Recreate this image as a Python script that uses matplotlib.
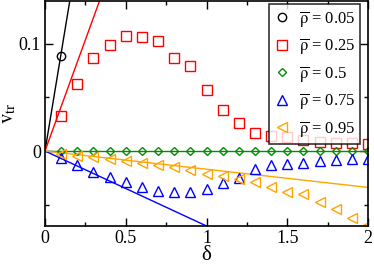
import matplotlib
matplotlib.use('Agg')
import matplotlib.pyplot as plt
from matplotlib.ticker import MultipleLocator

plt.rcParams['font.family'] = 'Liberation Serif'
plt.rcParams['mathtext.fontset'] = 'stix'

# delta values for the simulation points
delta = [0.1, 0.2, 0.3, 0.4, 0.5, 0.6, 0.7, 0.8, 0.9, 1.0,
         1.1, 1.2, 1.3, 1.4, 1.5, 1.6, 1.7, 1.8, 1.9, 2.0]

# rho = 0.05 (only one point)
delta_005 = [0.1]
v_005 = [0.0884]

v_025 = [0.0331, 0.0625, 0.0865, 0.099, 0.1078, 0.1062, 0.1028, 0.0865, 0.079, 0.0572,
         0.0387, 0.026, 0.0172, 0.0143, 0.0128, 0.010, 0.0084, 0.0078, 0.0072, 0.0063]
v_05 = [0.0] * 20
v_075 = [-0.0069, -0.0131, -0.0198, -0.024, -0.0287, -0.0334, -0.0372, -0.0387, -0.0387, -0.0353,
         -0.0297, -0.025, -0.0172, -0.0131, -0.0125, -0.011, -0.0094, -0.0084, -0.0078, -0.0075]
v_095 = [-0.0028, -0.0042, -0.006, -0.0078, -0.0095, -0.0112, -0.0128, -0.0152, -0.0178, -0.021,
         -0.0234, -0.0262, -0.0294, -0.0334, -0.0381, -0.0406, -0.048, -0.0544, -0.0622, -0.0694]

# slopes of the small-delta lines
rhos = ['0.05', '0.25', '0.5', '0.75', '0.95']
slopes = [0.913, 0.415, 0.0, -0.07, -0.017]
colors = ['black', 'red', '#0a8a0a', 'blue', 'orange']
markers = ['o', 's', 'D', '^', '<']
msizes = [6, 6.5, 4.5, 7, 7]

fig = plt.figure(figsize=(3.74, 2.64), dpi=100)
ax = fig.add_axes([0.1203, 0.144, 0.8637, 0.852])

line_x = [0, 2]
for s, c in zip(slopes, colors):
    ax.plot(line_x, [0, s * line_x[1]], color=c, lw=1.0)

series = [(delta_005, v_005), (delta, v_025), (delta, v_05), (delta, v_075), (delta, v_095)]
for (x, y), r, c, m, ms in zip(series, rhos, colors, markers, msizes):
    ax.plot(x, y, linestyle='none', marker=m, markersize=ms, markerfacecolor='none',
            markeredgecolor=c, markeredgewidth=1.0,
            label=r'$\overline{\mathrm{\rho}}$ = ' + r)

ax.set_xlim(0, 2)
ax.set_ylim(-0.07, 0.14)
ax.xaxis.set_minor_locator(MultipleLocator(0.25))
ax.yaxis.set_minor_locator(MultipleLocator(0.05))
ax.set_xticks([0, 0.5, 1, 1.5, 2])
ax.set_xticklabels(['0', '0.5', '1', '1.5', '2'])
ax.set_yticks([0, 0.1])
ax.set_yticklabels(['0', '0.1'])
ax.tick_params(which='both', direction='in', top=True, right=True, labelsize=13, width=1)
ax.tick_params(which='major', length=6, pad=3)
ax.tick_params(which='minor', length=3)
for sp in ax.spines.values():
    sp.set_linewidth(1.2)

ax.set_xlabel('δ', fontsize=15, labelpad=-1)
ax.set_ylabel(r'$\mathrm{v}_{\mathrm{tr}}$', fontsize=15, labelpad=0)

leg = ax.legend(loc='upper right', bbox_to_anchor=(0.975, 0.987), fontsize=12,
                frameon=True, fancybox=False, edgecolor='black', handlelength=1.0,
                handletextpad=0.5, borderpad=0.3, labelspacing=0.45, borderaxespad=0)
leg.get_frame().set_linewidth(1.2)

fig.savefig('out.png', dpi=100)
